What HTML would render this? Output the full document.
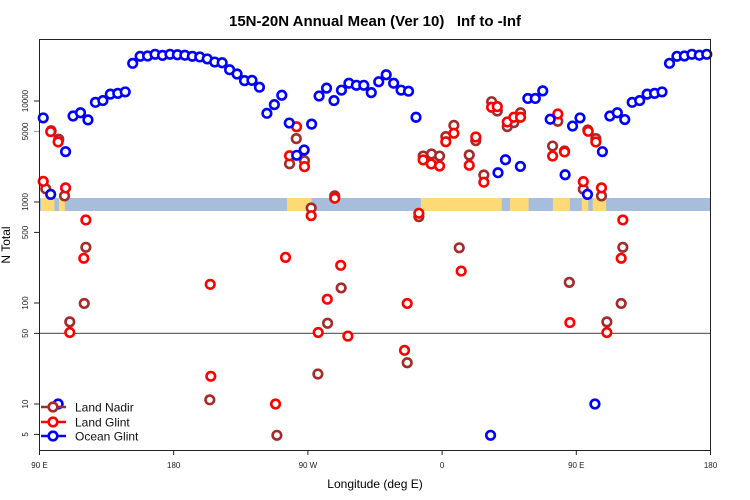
<!DOCTYPE html>
<html><head><meta charset="utf-8"><style>
body{margin:0;background:#fff;}
svg{display:block;font-family:"Liberation Sans",sans-serif;}
</style></head><body>
<svg id="chart" width="750" height="500">
<text x="375" y="26" text-anchor="middle" font-size="15" font-weight="bold" xml:space="preserve" style="white-space:pre">15N-20N Annual Mean (Ver 10)   Inf to -Inf</text>
<text x="375" y="488" text-anchor="middle" font-size="12">Longitude (deg E)</text>
<text transform="translate(10,245) rotate(-90)" text-anchor="middle" font-size="12">N Total</text>
<g id="band"></g>
<g id="axes"></g>
<g id="marks"></g>
<rect x="39.5" y="39.5" width="671" height="411" fill="none" stroke="#222" stroke-width="1"/>
<g id="legend"></g>
</svg>
<script>
const oceanLon=[92.5,97.5,102.5,107.5,112.5,117.5,122.5,127.5,132.5,137.5,142.5,147.5,152.5,157.5,162.5,167.5,172.5,177.5,182.5,187.5,192.5,197.5,202.5,207.5,212.5,217.5,222.5,227.5,232.5,237.5,242.5,247.5,252.5,257.5,262.5,267.5,272.5,277.5,282.5,287.5,292.5,297.5,302.5,307.5,312.5,317.5,322.5,327.5,332.5,337.5,342.5,392.5,397.5,402.5,412.5,417.5,422.5,427.5,432.5,442.5,447.5,452.5,457.5,462.5,467.5,472.5,477.5,482.5,487.5,492.5,497.5,502.5,507.5,512.5,517.5,522.5,527.5,532.5,537.5];
const oceanVal=[6800,1190,10,3150,7100,7650,6500,9700,10100,11700,11900,12300,23600,27700,27900,29000,28300,29000,28700,28400,27700,27300,26100,24300,23900,20400,18500,15900,16000,13700,7550,9200,11400,6050,2900,3270,5900,11200,13400,10100,12800,15000,14300,14300,12100,15500,18200,15000,12800,12500,6900,4.9,1950,2620,2250,10600,10600,12600,6600,1860,5650,6800,1190,10,3150,7100,7650,6550,9700,10100,11700,11900,12300,23600,27700,27900,29000,28400,29000];
const glintLon=[92.5,97.5,102.5,107.5,110.3,119.7,121.1,204.5,204.9,248.3,255,257.7,262.4,267.7,272.2,276.9,283,288,292,296.8,334.8,336.6,344.4,347.3,352.7,358.3,362.5,367.9,372.8,378.2,382.6,388,393.2,397,403.7,408.1,412.6,434.1,437.6,442.1,445.7,454.7,458,463.1,466.9,470.5,480.1,481.2];
const glintVal=[1600,4970,3930,1380,51,277,664,153,18.8,10,283,2870,5560,2240,732,51,109,1090,236,47,34,99,773,2610,2380,2270,3950,4790,207,2310,4400,1570,8670,8800,6200,6900,6900,2850,7430,3130,64,1590,5010,3930,1380,51,277,664];
const nadirLon=[94.2,97.8,102.9,106.8,110.3,120,121.1,204.2,249.2,257.7,262.2,267.7,272.2,276.7,283.2,288,292.3,336.6,344.4,347.3,352.9,358.3,362.5,367.9,371.5,378.2,382.6,388,393.2,397,403.7,408.1,412.6,434.1,437.6,442.1,445.3,454.7,457.7,463.1,466.9,470.5,480.1,481.2];
const nadirVal=[1350,5080,4180,1150,65,99,356,11,4.9,2390,4240,2560,873,19.8,63,1150,141,25.6,716,2850,2990,2850,4440,5740,352,2920,4050,1850,9850,7960,5570,6100,7650,3580,6300,3200,160,1340,5160,4240,1150,65,99,356];
const yTicks=[5,10,50,100,500,1000,5000,10000];
const xTicks=[90,180,270,360,450,540];
const xTickLabels=["90 E","180","90 W","0","90 E","180"];
// land segments in map strip (longitude ranges)
const landLon=[[91,100],[103,107],[256,272.5],[345.8,400],[405.5,418],[434.3,445.7],[453.7,458],[461,470]];

const NS='http://www.w3.org/2000/svg';
const X0=39.5,X1=710.5,LON0=90,LON1=540;
function xs(l){return X0+(l-LON0)*(X1-X0)/(LON1-LON0);}
function ys(v){return 505-101*Math.log10(v);}
function mk(t,a,p){const e=document.createElementNS(NS,t);for(const k in a)e.setAttribute(k,a[k]);(p||document.getElementById('marks')).appendChild(e);return e;}

const band=document.getElementById('band');
let r=mk('rect',{x:X0,y:ys(1000)-4,width:X1-X0,height:13,fill:'#a6bddb'},band);


landLon.forEach(s=>{const e=mk('rect',{x:xs(s[0]),y:ys(1000)-4,width:xs(s[1])-xs(s[0]),height:13,fill:'#fed976'},band);

});

const ax=document.getElementById('axes');
let hl=mk('line',{x1:X0,x2:X1,y1:ys(50),y2:ys(50),stroke:'#666','stroke-width':1.3},ax);


yTicks.forEach(v=>{const y=ys(v);
 const c=v===5000?'#999':'#222';
 mk('line',{x1:34,x2:X0,y1:y,y2:y,stroke:c},ax);
 const t=mk('text',{transform:`translate(28,${y}) rotate(-90)`,'text-anchor':'middle','font-size':8,fill:'#222'},ax);
 t.textContent=v;
 
 });
xTicks.forEach((l,i)=>{const x=xs(l);
 mk('line',{x1:x,x2:x,y1:450.5,y2:455,stroke:'#222'},ax);
 const t=mk('text',{x:x,y:468,'text-anchor':'middle','font-size':8,fill:'#222'},ax);
 t.textContent=xTickLabels[i];
 
 });

function series(lon,val,col,name){lon.forEach((l,i)=>{const c=mk('circle',{cx:xs(l),cy:ys(val[i]),r:4.3,fill:'#fff',stroke:col,'stroke-width':2.6});
 
 });}
series(nadirLon,nadirVal,'#a52a2a','land-nadir-point');
series(glintLon,glintVal,'#ff0000','land-glint-point');
series(oceanLon,oceanVal,'#0000ff','ocean-glint-point');

const lg=document.getElementById('legend');
[['Land Nadir','#a52a2a',407],['Land Glint','#ff0000',422],['Ocean Glint','#0000ff',436]].forEach(d=>{
 mk('line',{x1:41,x2:66,y1:d[2],y2:d[2],stroke:d[1],'stroke-width':2.6},lg);
 mk('circle',{cx:53,cy:d[2],r:4.3,fill:'#fff',stroke:d[1],'stroke-width':2.6},lg);
 const t=mk('text',{x:75,y:d[2]+4.5,'font-size':12,fill:'#111'},lg);
 t.textContent=d[0];
 
 });
</script>
</body></html>
